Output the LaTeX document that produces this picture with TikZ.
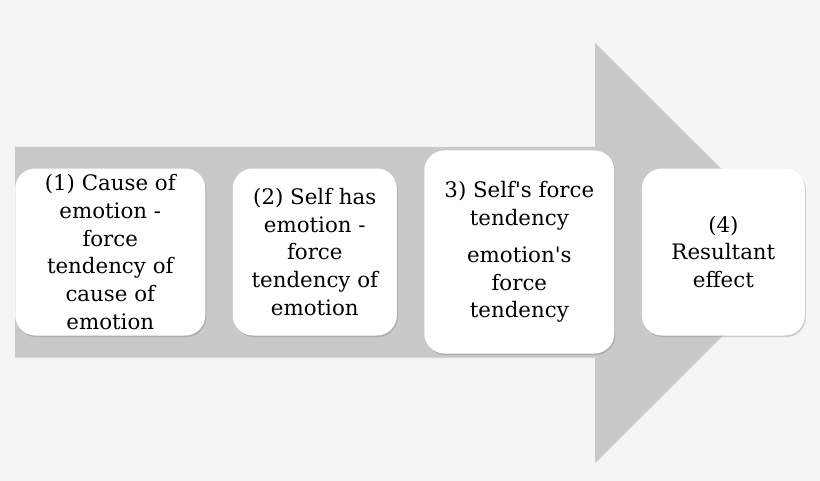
\documentclass[tikz,border=0pt]{standalone}
\usepackage{fontspec}
\setmainfont{DejaVu Serif}
\usepackage{tikz}
\usetikzlibrary{positioning,shadows}
\definecolor{BackGray}{RGB}{245,245,245}
\definecolor{ArrowGray}{RGB}{201,201,201}

\begin{document}
\begin{tikzpicture}[
x=0.75pt,y=-0.75pt,
BigArrow/.style={fill=ArrowGray,draw=none,
  drop shadow={shadow xshift=0.6pt,shadow yshift=-0.8pt,opacity=0.25}},
StepBox/.style={fill=white,draw=none,rounded corners=15pt,align=center,
  inner sep=0pt,minimum height=125.25pt,
  font=\fontsize{16}{20.8}\selectfont,
  drop shadow={shadow xshift=0.8pt,shadow yshift=-1.2pt,opacity=0.35}},
node distance=20.25pt
]
%\draw[help lines] (0,0) grid (820,481);
\fill[BackGray] (0,0) rectangle (820,481);
\useasboundingbox (0,0) rectangle (820,481);

% big arrow
\coordinate (Tail) at (15,252);
\coordinate (Tip) at (805,252.5);
\fill[BigArrow] (15,147) -- (595,147) -- (595,43) -- (Tip)
  -- (595,462) -- (595,357) -- (15,357) -- cycle;

% steps
\node[StepBox,minimum width=142.5pt,anchor=west] (cause) at (Tail)
  {(1) Cause of\\emotion -\\force\\tendency of\\cause of\\emotion};
\node[StepBox,minimum width=123pt,right=of cause] (self)
  {(2) Self has\\emotion -\\force\\tendency of\\emotion};
\node[StepBox,minimum width=142.5pt,minimum height=152.25pt,right=of self] (force)
  {3) Self\textquotesingle s force\\tendency\\[7pt]emotion\textquotesingle s\\force\\tendency};
\node[StepBox,minimum width=122.25pt,right=of force] (result)
  {(4)\\Resultant\\effect};

\end{tikzpicture}
\end{document}
